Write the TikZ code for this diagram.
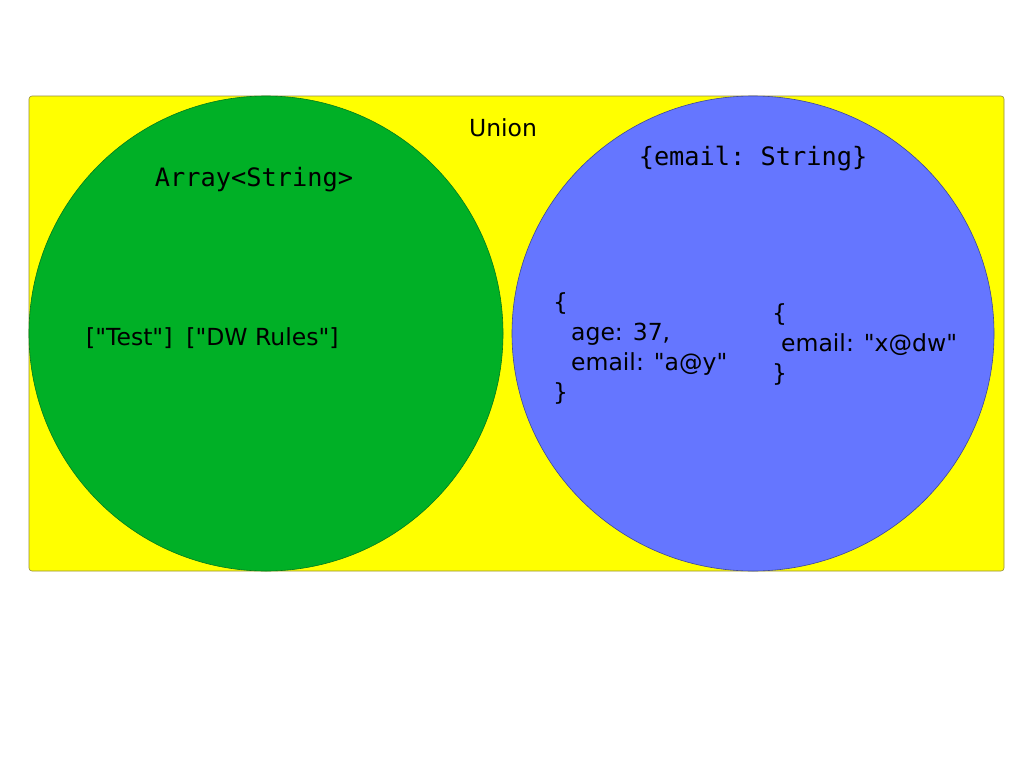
\documentclass[tikz,border=0pt]{standalone}
\usepackage{fontspec}
\setmainfont{DejaVu Sans}[Ligatures=TeXOff]
\setmonofont{DejaVu Sans Mono}
\definecolor{uyellow}{RGB}{255,255,0}
\definecolor{ugreen}{RGB}{0,176,38}
\definecolor{ublue}{RGB}{101,118,255}
\definecolor{uedge}{RGB}{150,140,60}
\begin{document}
\begin{tikzpicture}[x=1pt,y=-1pt,
  lbl/.style={inner sep=0pt, text=black, font=\fontsize{23.5}{30}\selectfont},
  mono/.style={inner sep=0pt, text=black, font=\fontsize{25.3}{30}\selectfont\ttfamily},
  setshape/.style={draw=uedge, line width=0.6pt}]
\useasboundingbox (0,0) rectangle (1024,768);
\fill[white] (0,0) rectangle (1024,768);
\draw[setshape, fill=uyellow, rounded corners=3pt] (29,96) rectangle (1004,571);
\path[setshape, fill=ugreen, draw=ugreen!70!black] (266,333.5) ellipse [x radius=237, y radius=237.5];
\path[setshape, fill=ublue, draw=ublue!60!black] (753,333.5) ellipse [x radius=241, y radius=237.5];
\node[lbl] (union) at (503,128) {Union};
\node[mono] (arr) at (254,180) {Array<String>};
\node[mono] (emailt) at (753,159) {\{email: String\}};
\node[lbl, anchor=west] (strs) at (86,338) {["Test"]\hspace{14pt}["DW Rules"]};
\node[lbl, anchor=west, align=left] (obj1) at (553,348.5) {\{\\\hspace*{18pt}age: 37,\\\hspace*{18pt}email: "a@y"\\\}};
\node[lbl, anchor=west, align=left] (obj2) at (772,344) {\{\\\hspace*{9pt}email: "x@dw"\\\}};
\end{tikzpicture}
\end{document}
